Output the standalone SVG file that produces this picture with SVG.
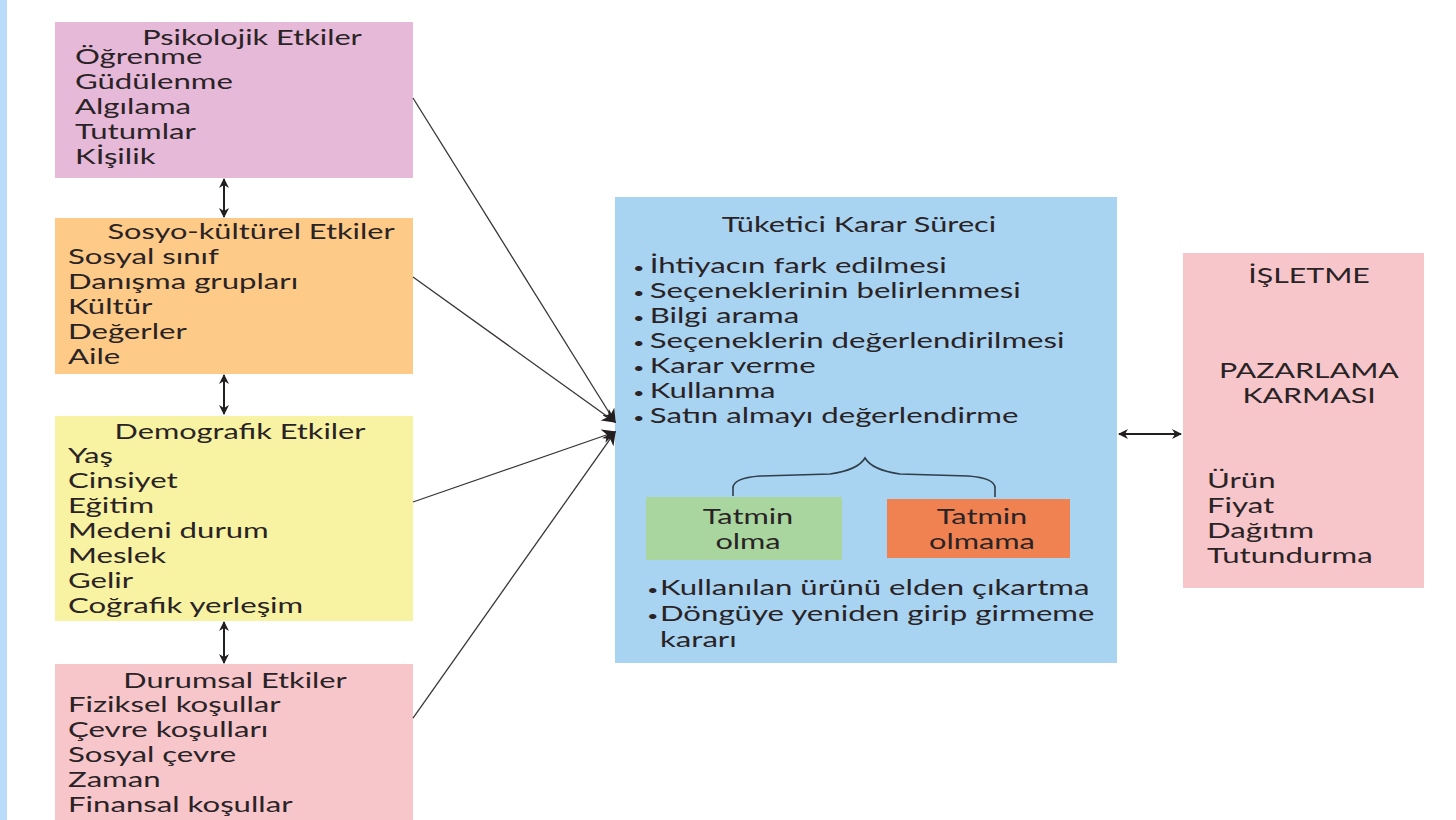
<svg xmlns="http://www.w3.org/2000/svg" width="1456" height="820" viewBox="0 0 1456 820">
<defs>
<marker id="ah" viewBox="0 0 10 10" refX="9" refY="5" markerWidth="10" markerHeight="10" orient="auto-start-reverse" markerUnits="userSpaceOnUse">
<path d="M0,0 L10,5 L0,10 L3,5 Z" fill="#231f20"/>
</marker>
<marker id="ahs" viewBox="0 0 10 10" refX="9" refY="5" markerWidth="14" markerHeight="14" orient="auto-start-reverse" markerUnits="userSpaceOnUse">
<path d="M0,0 L10,5 L0,10 L3,5 Z" fill="#231f20"/>
</marker>
</defs>
<style>
text{font-family:Lato,"Open Sans",sans-serif;font-size:20.5px;fill:#2a2326}
.c{text-anchor:middle}
.b{font-size:13px}
.ln{stroke:#3a3436;stroke-width:1.3;fill:none}
.dl{stroke:#231f20;stroke-width:2;fill:none}
</style>
<rect x="0" y="0" width="1456" height="820" fill="#ffffff"/>
<rect x="0" y="0" width="7" height="820" fill="#b9dcfb"/>

<g id="psikolojik">
<rect x="55" y="22" width="358" height="156" fill="#e6b9d8"/>
<g transform="translate(252,0) scale(1.5,1)"><text class="c" x="0" y="45">Psikolojik Etkiler</text></g>
<g transform="translate(75,0) scale(1.52,1)">
<text x="0" y="64">Öğrenme</text>
<text x="0" y="89">Güdülenme</text>
<text x="0" y="114">Algılama</text>
<text x="0" y="139">Tutumlar</text>
<text x="0" y="164">Kİşilik</text>
</g>
</g>

<g id="sosyokulturel">
<rect x="55" y="218" width="358" height="156" fill="#fdcb87"/>
<g transform="translate(251,0) scale(1.5,1)"><text class="c" x="0" y="239">Sosyo-kültürel Etkiler</text></g>
<g transform="translate(68,0) scale(1.52,1)">
<text x="0" y="264">Sosyal sınıf</text>
<text x="0" y="289">Danışma grupları</text>
<text x="0" y="314">Kültür</text>
<text x="0" y="339">Değerler</text>
<text x="0" y="364">Aile</text>
</g>
</g>

<g id="demografik">
<rect x="55" y="416" width="358" height="205" fill="#f8f3a2"/>
<g transform="translate(240,0) scale(1.5,1)"><text class="c" x="0" y="439">Demografik Etkiler</text></g>
<g transform="translate(68,0) scale(1.52,1)">
<text x="0" y="463">Yaş</text>
<text x="0" y="488">Cinsiyet</text>
<text x="0" y="513">Eğitim</text>
<text x="0" y="538">Medeni durum</text>
<text x="0" y="563">Meslek</text>
<text x="0" y="588">Gelir</text>
<text x="0" y="613">Coğrafik yerleşim</text>
</g>
</g>

<g id="durumsal">
<rect x="55" y="664" width="358" height="160" fill="#f6c6cb"/>
<g transform="translate(235,0) scale(1.5,1)"><text class="c" x="0" y="688">Durumsal Etkiler</text></g>
<g transform="translate(68,0) scale(1.52,1)">
<text x="0" y="712">Fiziksel koşullar</text>
<text x="0" y="737">Çevre koşulları</text>
<text x="0" y="762">Sosyal çevre</text>
<text x="0" y="787">Zaman</text>
<text x="0" y="812">Finansal koşullar</text>
</g>
</g>

<g id="karar-sureci">
<rect x="615" y="197" width="502" height="466" fill="#a8d3f1"/>
<g transform="translate(859,0) scale(1.5,1)"><text class="c" x="0" y="232">Tüketici Karar Süreci</text></g>
<g transform="translate(633,0) scale(1.52,1)">
<text x="0" y="273"><tspan class="b">•</tspan><tspan x="11">İhtiyacın fark edilmesi</tspan></text>
<text x="0" y="298"><tspan class="b">•</tspan><tspan x="11">Seçeneklerinin belirlenmesi</tspan></text>
<text x="0" y="323"><tspan class="b">•</tspan><tspan x="11">Bilgi arama</tspan></text>
<text x="0" y="348"><tspan class="b">•</tspan><tspan x="11">Seçeneklerin değerlendirilmesi</tspan></text>
<text x="0" y="373"><tspan class="b">•</tspan><tspan x="11">Karar verme</tspan></text>
<text x="0" y="398"><tspan class="b">•</tspan><tspan x="11">Kullanma</tspan></text>
<text x="0" y="423"><tspan class="b">•</tspan><tspan x="11">Satın almayı değerlendirme</tspan></text>
</g>
<path d="M733,496 L733,488 Q733,478 760,476 L830,474 Q858,470 865,458 Q872,470 900,474 L968,476 Q995,478 995,488 L995,497" stroke="#2e3f4a" stroke-width="1.6" fill="none"/>
<g transform="translate(647,0) scale(1.52,1)">
<text x="0" y="595"><tspan class="b">•</tspan><tspan x="8.5">Kullanılan ürünü elden çıkartma</tspan></text>
<text x="0" y="621"><tspan class="b">•</tspan><tspan x="8.5">Döngüye yeniden girip girmeme</tspan></text>
</g>
<g transform="translate(660,0) scale(1.52,1)"><text x="0" y="647">kararı</text></g>
</g>

<g id="tatmin-olma">
<rect x="646" y="497" width="196" height="63" fill="#a9d69f"/>
<g transform="translate(748,0) scale(1.5,1)">
<text class="c" x="0" y="524">Tatmin</text>
<text class="c" x="0" y="549">olma</text>
</g>
</g>

<g id="tatmin-olmama">
<rect x="887" y="499" width="183" height="59" fill="#f08252"/>
<g transform="translate(982,0) scale(1.5,1)">
<text class="c" x="0" y="524">Tatmin</text>
<text class="c" x="0" y="549">olmama</text>
</g>
</g>

<g id="isletme">
<rect x="1183" y="253" width="241" height="335" fill="#f6c6ca"/>
<g transform="translate(1309,0) scale(1.48,1)">
<text class="c" x="0" y="283">İŞLETME</text>
<text class="c" x="0" y="378">PAZARLAMA</text>
<text class="c" x="0" y="403">KARMASI</text>
</g>
<g transform="translate(1207,0) scale(1.52,1)">
<text x="0" y="488">Ürün</text>
<text x="0" y="513">Fiyat</text>
<text x="0" y="538">Dağıtım</text>
<text x="0" y="563">Tutundurma</text>
</g>
</g>

<g id="connectors">
<line class="ln" x1="413" y1="98" x2="615" y2="422" marker-end="url(#ahs)"/>
<line class="ln" x1="413" y1="277" x2="615" y2="422" marker-end="url(#ahs)"/>
<line class="ln" x1="413" y1="502" x2="615" y2="432" marker-end="url(#ahs)"/>
<line class="ln" x1="413" y1="718" x2="615" y2="432" marker-end="url(#ahs)"/>
<line class="dl" x1="224" y1="179" x2="224" y2="217" marker-start="url(#ah)" marker-end="url(#ah)"/>
<line class="dl" x1="224" y1="375" x2="224" y2="414" marker-start="url(#ah)" marker-end="url(#ah)"/>
<line class="dl" x1="224" y1="622" x2="224" y2="663" marker-start="url(#ah)" marker-end="url(#ah)"/>
<line class="dl" x1="1119" y1="434" x2="1181" y2="434" stroke-width="1.4" marker-start="url(#ah)" marker-end="url(#ah)"/>
</g>
</svg>
